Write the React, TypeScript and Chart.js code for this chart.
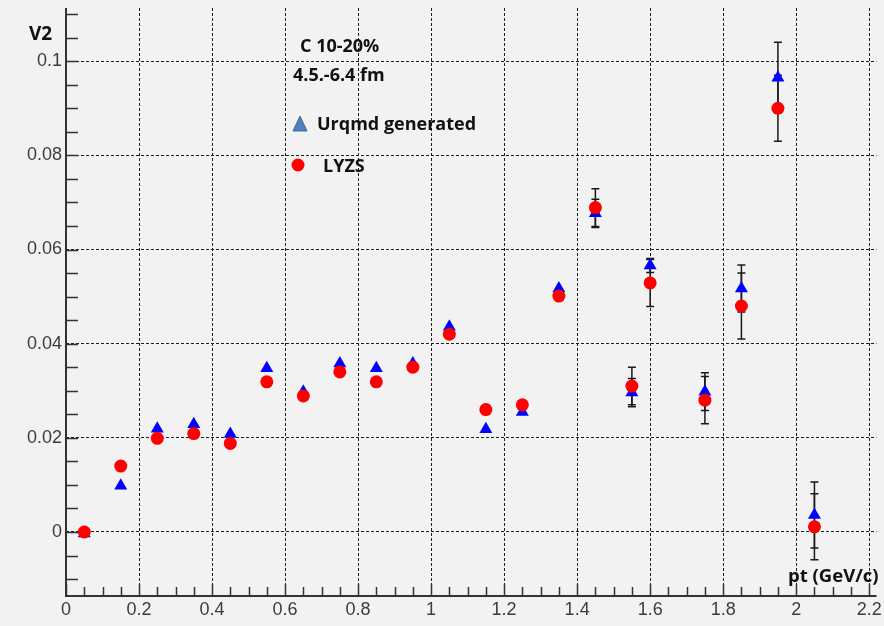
import React, { useEffect, useRef } from "react";
import { Chart, registerables } from "chart.js";

Chart.register(...registerables);

const pt = [0.05, 0.15, 0.25, 0.35, 0.45, 0.55, 0.65, 0.75, 0.85, 0.95, 1.05, 1.15, 1.25, 1.35, 1.45, 1.55, 1.6, 1.75, 1.85, 1.95, 2.05];
const urqmd = [-0.0003, 0.0098, 0.0219, 0.0229, 0.0208, 0.0348, 0.0298, 0.0358, 0.0348, 0.0358, 0.0436, 0.0218, 0.0255, 0.0517, 0.0677, 0.0296, 0.0566, 0.0298, 0.0517, 0.0965, 0.0036];
const urqmdErr = [0, 0, 0, 0, 0, 0, 0, 0, 0, 0, 0, 0, 0, 0, 0.003, 0.003, 0.0015, 0.004, 0.005, 0.0075, 0.007];
const lyzs = [0, 0.014, 0.0199, 0.0209, 0.0188, 0.0319, 0.0289, 0.034, 0.0319, 0.035, 0.042, 0.026, 0.027, 0.0501, 0.0689, 0.031, 0.0529, 0.028, 0.048, 0.09, 0.0011];
const lyzsErr = [0, 0, 0, 0, 0, 0, 0, 0, 0, 0, 0, 0, 0, 0, 0.004, 0.004, 0.005, 0.005, 0.007, 0.007, 0.007];

const X_MIN = 0;
const X_MAX = 2.22;
const Y_MIN = -0.0136;
const Y_MAX = 0.1113;
const X_STEP = 0.2;
const Y_STEP = 0.02;
const X_MINOR = 0.05;
const Y_MINOR = 0.005;

const fmt = (v: number) => String(Math.round(v * 1000) / 1000);

const bgPlugin = {
  id: "bg",
  beforeDraw(chart: any) {
    const ctx = chart.ctx;
    ctx.save();
    ctx.fillStyle = "#f2f2f2";
    ctx.fillRect(0, 0, chart.width, chart.height);
    ctx.restore();
  },
};

const errPlugin = {
  id: "errbars",
  beforeDatasetsDraw(chart: any) {
    const ctx = chart.ctx;
    const ys = chart.scales.y;
    const xs = chart.scales.x;
    ctx.save();
    ctx.strokeStyle = "#1a1a1a";
    ctx.lineWidth = 1.5;
    chart.data.datasets.forEach((ds: any) => {
      const errs: number[] = ds.errors || [];
      ds.data.forEach((p: any, i: number) => {
        const e = errs[i];
        if (!e) return;
        const x = xs.getPixelForValue(p.x);
        const y1 = ys.getPixelForValue(p.y + e);
        const y2 = ys.getPixelForValue(p.y - e);
        ctx.beginPath();
        ctx.moveTo(x, y1);
        ctx.lineTo(x, y2);
        ctx.moveTo(x - 4, y1);
        ctx.lineTo(x + 4, y1);
        ctx.moveTo(x - 4, y2);
        ctx.lineTo(x + 4, y2);
        ctx.stroke();
      });
    });
    ctx.restore();
  },
};

const axisPlugin = {
  id: "axes",
  afterDraw(chart: any) {
    const ctx = chart.ctx;
    const { left, right, top, bottom } = chart.chartArea;
    const xs = chart.scales.x;
    const ys = chart.scales.y;
    ctx.save();
    ctx.strokeStyle = "#333";
    ctx.lineWidth = 2;
    ctx.beginPath();
    ctx.moveTo(left, top);
    ctx.lineTo(left, bottom);
    ctx.lineTo(right, bottom);
    ctx.stroke();
    ctx.lineWidth = 1.5;
    ctx.beginPath();
    for (let k = Math.ceil(Y_MIN / Y_MINOR); k * Y_MINOR <= Y_MAX; k++) {
      const y = Math.round(ys.getPixelForValue(k * Y_MINOR)) + 0.5;
      ctx.moveTo(left, y);
      ctx.lineTo(left + 12, y);
    }
    for (let k = Math.ceil(X_MIN / X_MINOR); k * X_MINOR <= X_MAX; k++) {
      const x = Math.round(xs.getPixelForValue(k * X_MINOR)) + 0.5;
      const major = k % 4 === 0;
      ctx.moveTo(x, bottom);
      ctx.lineTo(x, bottom - (major ? 12 : 9));
    }
    ctx.stroke();

    // annotations / legend
    ctx.fillStyle = "#111";
    ctx.textBaseline = "middle";
    ctx.textAlign = "left";
    ctx.font = "bold 19px 'Open Sans', sans-serif";
    ctx.fillText("V2", 29, 35);
    ctx.font = "bold 18px 'Open Sans', sans-serif";
    ctx.fillText("C 10-20%", 300, 47);
    ctx.fillText("4.5.-6.4 fm", 293, 76);
    ctx.fillText("Urqmd generated", 317, 125);
    ctx.fillText("LYZS", 323, 167);
    ctx.font = "bold 18.5px 'Open Sans', sans-serif";
    ctx.fillText("pt (GeV/c)", 788, 577);

    // legend triangle
    ctx.fillStyle = "#4f81bd";
    ctx.strokeStyle = "#3d6da6";
    ctx.lineWidth = 1;
    ctx.beginPath();
    ctx.moveTo(300, 116);
    ctx.lineTo(307, 131);
    ctx.lineTo(293, 131);
    ctx.closePath();
    ctx.fill();
    ctx.stroke();
    // legend circle
    ctx.fillStyle = "#ff0000";
    ctx.beginPath();
    ctx.arc(298, 165, 6.5, 0, Math.PI * 2);
    ctx.fill();
    ctx.restore();
  },
};

export default function App() {
  const ref = useRef<HTMLCanvasElement>(null);
  useEffect(() => {
    if (!ref.current) return;
    const chart = new Chart(ref.current, {
      type: "scatter",
      data: {
        datasets: [
          {
            label: "LYZS",
            data: pt.map((x, i) => ({ x, y: lyzs[i] })),
            errors: lyzsErr,
            pointStyle: "circle",
            pointRadius: 6.5,
            pointHoverRadius: 6.5,
            backgroundColor: "#ff0000",
            borderColor: "#ff0000",
            borderWidth: 0,
          } as any,
          {
            label: "Urqmd generated",
            data: pt.map((x, i) => ({ x, y: urqmd[i] })),
            errors: urqmdErr,
            pointStyle: "triangle",
            pointRadius: 7.5,
            pointHoverRadius: 7.5,
            backgroundColor: "#0000ff",
            borderColor: "#2a1aff",
            borderWidth: 0,
          } as any,
        ],
      },
      options: {
        animation: false,
        responsive: false,
        devicePixelRatio: 1,
        layout: { padding: { top: 8, right: 3, left: 0, bottom: 0 } },
        plugins: { legend: { display: false }, tooltip: { enabled: false } },
        scales: {
          x: {
            type: "linear",
            min: X_MIN,
            max: X_MAX,
            afterFit: (s: any) => {
              s.height = 30;
              s.paddingLeft = 0;
              s.paddingRight = 0;
            },
            ticks: {
              stepSize: X_STEP,
              includeBounds: false,
              maxRotation: 0,
              autoSkip: false,
              padding: 3,
              color: "#3c3c3c",
              font: { family: "'Liberation Sans', Arial, sans-serif", size: 18 },
              callback: (v: any) => fmt(Number(v)),
            },
            grid: { color: "#1e1e1e", lineWidth: 1, drawTicks: false },
            border: { display: false, dash: [3, 2] },
          },
          y: {
            type: "linear",
            min: Y_MIN,
            max: Y_MAX,
            afterFit: (s: any) => {
              s.width = 66;
              s.paddingTop = 0;
              s.paddingBottom = 0;
            },
            ticks: {
              stepSize: Y_STEP,
              includeBounds: false,
              autoSkip: false,
              padding: 4,
              color: "#3c3c3c",
              font: { family: "'Liberation Sans', Arial, sans-serif", size: 18 },
              callback: (v: any) => fmt(Number(v)),
            },
            grid: { color: "#1e1e1e", lineWidth: 1, drawTicks: false },
            border: { display: false, dash: [3, 2] },
          },
        },
      } as any,
      plugins: [bgPlugin, errPlugin, axisPlugin],
    });
    return () => chart.destroy();
  }, []);
  return (
    <div style={{ position: "absolute", left: 0, top: 0, width: 884, height: 626, background: "#f2f2f2" }}>
      <canvas ref={ref} width={884} height={626} style={{ display: "block" }} />
    </div>
  );
}
